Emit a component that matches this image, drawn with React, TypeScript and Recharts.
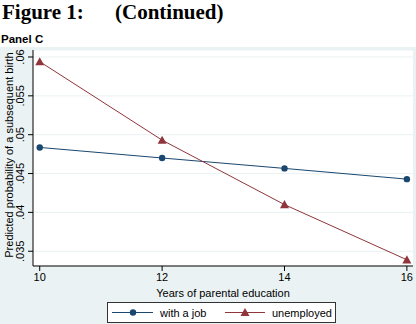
import React from 'react';
import { LineChart, Line, XAxis, YAxis, CartesianGrid } from 'recharts';

const years = [10, 12, 14, 16];
const withJob = [0.04836, 0.0470, 0.04566, 0.04428];
const unemployed = [0.0594, 0.0493, 0.0410, 0.0339];
const yTicks = [0.035, 0.04, 0.045, 0.05, 0.055, 0.06];

const NAVY = '#1a476f';
const MAROON = '#90353b';
const REGION = '#eaf2f3';
const FONT = '"Liberation Sans", Arial, sans-serif';

const rows = years.map((edu, i) => ({ edu, job: withJob[i], unemp: unemployed[i] }));

const fmtY = (v: number) => String(+v.toFixed(3)).replace(/^0/, '');

// rotated tick labels, kept clear of the tick marks
const YTick = ({ y, payload }: any) => {
  const x = 20;
  return (
    <text x={x} y={y} transform={`rotate(-90 ${x} ${y})`} textAnchor="middle"
      dominantBaseline="central" fontFamily={FONT} fontSize={11} fill="#000">
      {fmtY(payload.value)}
    </text>
  );
};

const YLabel = ({ viewBox }: any) => {
  const x = 9;
  const y = viewBox.y + viewBox.height / 2 - 3;
  return (
    <text x={x} y={y} transform={`rotate(-90 ${x} ${y})`} textAnchor="middle"
      dominantBaseline="central" fontFamily={FONT} fontSize={11} fill="#000">
      Predicted probability of a subsequent birth
    </text>
  );
};

const XLabel = ({ viewBox }: any) => (
  <text x={viewBox.x + viewBox.width / 2} y={246} textAnchor="middle"
    dominantBaseline="central" fontFamily={FONT} fontSize={11} fill="#000">
    Years of parental education
  </text>
);

const Triangle = ({ cx, cy, fill }: any) => {
  if (cx == null || cy == null) return null;
  const s = 4.5;
  return <polygon points={`${cx},${cy - s} ${cx - s},${cy + s * 0.8} ${cx + s},${cy + s * 0.8}`} fill={fill} />;
};

function LegendBox() {
  return (
    <div style={{
      position: 'absolute', left: 107, top: 302, width: 229, height: 21, boxSizing: 'border-box',
      background: '#fff', border: '1px solid #333',
    }}>
      <svg width={229} height={21} style={{ position: 'absolute', left: -1, top: -1 }}>
        <line x1={5} x2={46} y1={10.5} y2={10.5} stroke={NAVY} strokeWidth={1} />
        <circle cx={26} cy={10.5} r={3.2} fill={NAVY} />
        <line x1={118} x2={158} y1={10.5} y2={10.5} stroke={MAROON} strokeWidth={1} />
        <Triangle cx={138} cy={10.5} fill={MAROON} />
        <text x={53} y={14.5} fontFamily={FONT} fontSize={11} fill="#000">with a job</text>
        <text x={165} y={14.5} fontFamily={FONT} fontSize={11} fill="#000">unemployed</text>
      </svg>
    </div>
  );
}

export default function App() {
  const serif = '"Liberation Serif", "Times New Roman", serif';
  return (
    <div style={{ position: 'absolute', left: 0, top: 0, width: 416, height: 324, background: '#fff', overflow: 'hidden' }}>
      <div style={{ position: 'absolute', left: 2, top: 0, fontFamily: serif, fontWeight: 700, fontSize: 21, lineHeight: '24px' }}>
        Figure 1:
      </div>
      <div style={{ position: 'absolute', left: 115, top: 0, fontFamily: serif, fontWeight: 700, fontSize: 21, lineHeight: '24px' }}>
        (Continued)
      </div>
      <div style={{ position: 'absolute', left: 1, top: 32, fontFamily: FONT, fontWeight: 700, fontSize: 11.5, lineHeight: '14px' }}>
        Panel C
      </div>
      <div style={{ position: 'absolute', left: 0, top: 47, width: 416, height: 277, background: REGION }}>
        <LineChart width={416} height={277} data={rows} margin={{ top: 3, right: 3, bottom: 28, left: 8 }}>
          <CartesianGrid vertical={false} stroke={REGION} fill="#fff" />
          <XAxis type="number" dataKey="edu" domain={[9.89, 16.1]} ticks={years} height={30}
            tickSize={5} tickMargin={2} stroke="#000"
            tick={{ fontFamily: FONT, fontSize: 11, fill: '#000' }}
            label={<XLabel />} />
          <YAxis type="number" domain={[0.0331, 0.0609]} ticks={yTicks} width={25}
            tickSize={5} tickMargin={2} stroke="#000" tick={<YTick />}
            label={<YLabel />} />
          <Line type="linear" dataKey="job" stroke={NAVY} strokeWidth={1}
            dot={{ r: 3.2, fill: NAVY, stroke: 'none' }} activeDot={false} isAnimationActive={false} />
          <Line type="linear" dataKey="unemp" stroke={MAROON} strokeWidth={1}
            dot={(p: any) => <Triangle key={p.index} cx={p.cx} cy={p.cy} fill={MAROON} />}
            activeDot={false} isAnimationActive={false} />
        </LineChart>
      </div>
      <LegendBox />
    </div>
  );
}
